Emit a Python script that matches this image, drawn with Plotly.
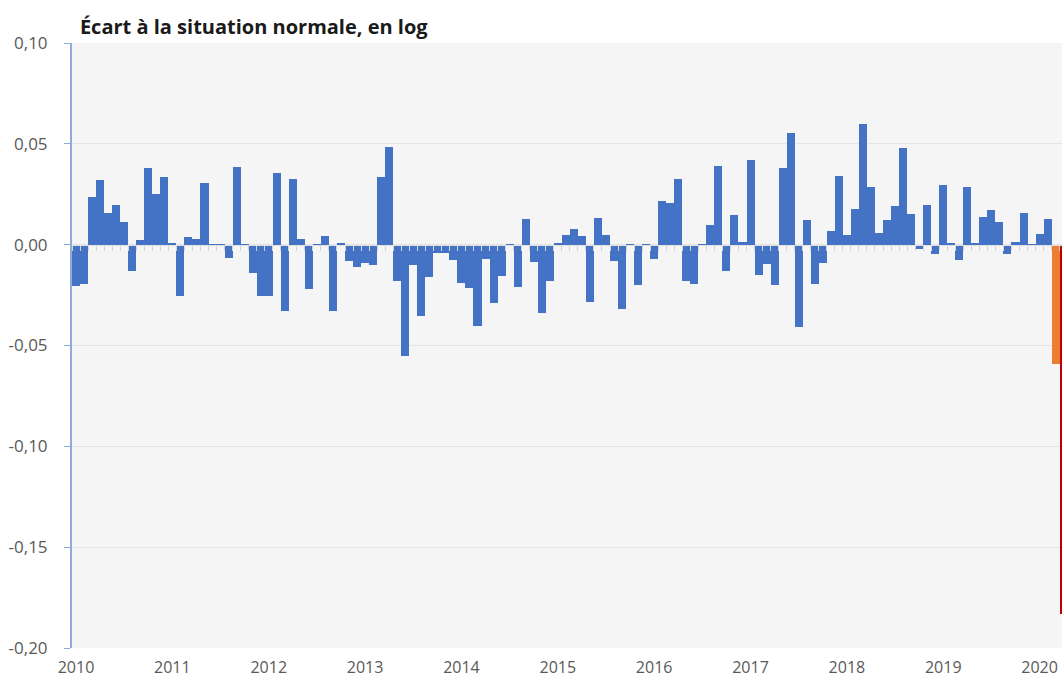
import pandas as pd
import plotly.graph_objects as go

# Écart mensuel à la situation normale (log), janvier 2010 - février 2020
ecart_mensuel = [
    -0.0206, -0.0197, 0.0237, 0.0320, 0.0158, 0.0199, 0.0110, -0.0133, 0.0022, 0.0380, 0.0249, 0.0337,
    0.0008, -0.0257, 0.0036, 0.0030, 0.0308, -0.0005, 0.0003, -0.0066, 0.0386, 0.0002, -0.0139, -0.0255,
    -0.0255, 0.0357, -0.0327, 0.0325, 0.0027, -0.0221, 0.0001, 0.0045, -0.0328, 0.0008, -0.0080, -0.0113,
    -0.0091, -0.0100, 0.0337, 0.0486, -0.0181, -0.0550, -0.0103, -0.0352, -0.0158, -0.0040, -0.0040, -0.0078,
    -0.0189, -0.0216, -0.0405, -0.0070, -0.0287, -0.0153, -0.0002, -0.0211, 0.0126, -0.0086, -0.0338, -0.0182,
    0.0008, 0.0046, 0.0080, 0.0043, -0.0282, 0.0133, 0.0046, -0.0083, -0.0318, 0.0001, -0.0199, -0.0002,
    -0.0070, 0.0216, 0.0207, 0.0328, -0.0181, -0.0194, 0.0001, 0.0100, 0.0390, -0.0133, 0.0146, 0.0013,
    0.0420, -0.0148, -0.0095, -0.0199, 0.0381, 0.0556, -0.0410, 0.0121, -0.0194, -0.0091, 0.0066, 0.0340,
    0.0046, 0.0179, 0.0597, 0.0287, 0.0060, 0.0121, 0.0191, 0.0478, 0.0154, -0.0023, 0.0199, -0.0048,
    0.0295, 0.0008, -0.0075, 0.0287, 0.0008, 0.0138, 0.0174, 0.0110, -0.0048, 0.0013, 0.0159, -0.0003,
    0.0051, 0.0126,
]
ecart_mars_2020 = [-0.059]
ecart_avril_2020 = [-0.183]

mois = [d.strftime("%Y-%m") for d in pd.date_range("2010-01-01", "2020-04-01", freq="MS")]
mois_normaux = mois[: len(ecart_mensuel)]
mois_mars = ["2020-03"]
mois_avril = ["2020-04"]

annees = [str(a) for a in range(2010, 2021)]
y_ticks = [-0.20, -0.15, -0.10, -0.05, 0.0, 0.05, 0.10]
y_labels = ["-0,20", "-0,15", "-0,10", "-0,05", "0,00", "0,05", "0,10"]

BLEU = "#4472c4"
ORANGE = "#ed7d31"
ROUGE = "#c00000"
GRIS = "#595959"
FONT = "Open Sans"

# the picture is cut on the right, just after the start of April 2020
x_range = [-0.5, 122.79]

fig = go.Figure()
fig.add_trace(go.Bar(x=mois_normaux, y=ecart_mensuel, marker=dict(color=BLEU, line=dict(width=0))))
fig.add_trace(go.Bar(x=mois_mars, y=ecart_mars_2020, marker=dict(color=ORANGE, line=dict(width=0))))
fig.add_trace(go.Bar(x=mois_avril, y=ecart_avril_2020, marker=dict(color=ROUGE, line=dict(width=0))))

fig.update_layout(
    width=1062,
    height=682,
    margin=dict(l=72, r=0, t=43, b=34),
    paper_bgcolor="white",
    plot_bgcolor="#f5f5f5",
    barmode="overlay",
    bargap=0,
    showlegend=False,
    font=dict(family=FONT, color=GRIS),
    title=dict(
        text="<b>Écart à la situation normale, en log</b>",
        font=dict(family=FONT, size=20, color="#1a1a1a"),
        x=0.008,
        xanchor="left",
        xref="paper",
        y=1 - 27 / 682,
        yanchor="middle",
        yref="container",
    ),
    xaxis=dict(
        type="category",
        categoryorder="array",
        categoryarray=mois,
        range=x_range,
        tickvals=[a + "-01" for a in annees],
        ticktext=annees,
        ticks="",
        ticklabelstandoff=8,
        showgrid=False,
        showline=False,
        zeroline=False,
        tickfont=dict(size=16, color=GRIS),
    ),
    # monthly tick marks drawn along the zero line
    xaxis2=dict(
        overlaying="x",
        anchor="free",
        position=0.2 / 0.3,
        range=x_range,
        tick0=0.5,
        dtick=1,
        ticks="outside",
        ticklen=5,
        tickcolor="#d4d4d4",
        showticklabels=False,
        showgrid=False,
        showline=True,
        linecolor="#e0e0e0",
        linewidth=1,
        zeroline=False,
    ),
    yaxis=dict(
        range=[-0.2, 0.1],
        tickvals=y_ticks,
        ticktext=y_labels,
        showgrid=True,
        gridcolor="#e4e4e4",
        gridwidth=1,
        zeroline=False,
        showline=True,
        linecolor="#8faadc",
        linewidth=2,
        ticks="outside",
        ticklen=6,
        tickcolor="#8faadc",
        ticklabelstandoff=13,
        tickfont=dict(size=17, color=GRIS),
    ),
)

# invisible trace so that the zero-line axis gets drawn
fig.add_trace(go.Scatter(x=[], y=[], xaxis="x2", showlegend=False, hoverinfo="skip"))

fig.write_html(
    "out.html",
    config={"displayModeBar": False},
    post_script="document.body.style.margin='0';",
)
